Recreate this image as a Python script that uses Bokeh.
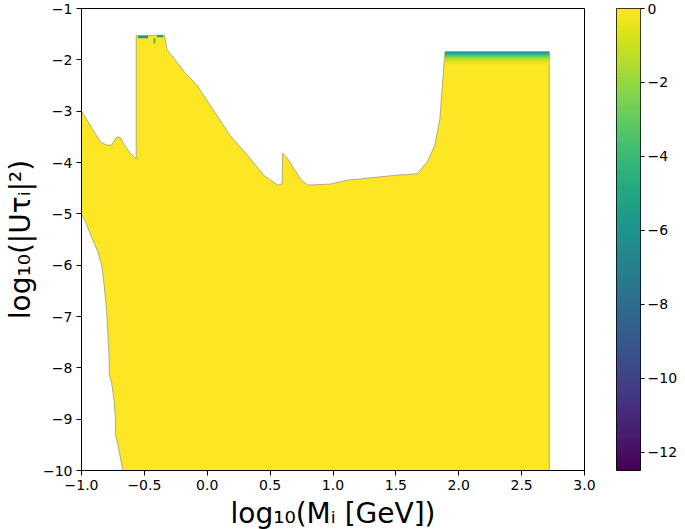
import numpy as np
from bokeh.plotting import figure
from bokeh.layouts import row
from bokeh.models import (LinearColorMapper, FixedTicker, CustomJSTickFormatter,
                          ColumnDataSource)
from bokeh.palettes import Viridis256
from bokeh.transform import linear_cmap
from bokeh.embed import file_html
from bokeh.resources import INLINE

# ---- data: boundary of the allowed region (log10 M, log10 |U|^2) ----
region_x = [-0.67, -0.69, -0.71, -0.73, -0.73, -0.74, -0.76, -0.78, -0.78, -0.79,
            -0.80, -0.82, -0.84, -0.87, -0.92, -0.96, -1.00,
            -1.00, -0.95, -0.90, -0.85, -0.80, -0.76, -0.72, -0.69, -0.66, -0.62,
            -0.565, -0.565, -0.34, -0.32, -0.25, -0.18, -0.08, 0.06, 0.18, 0.32,
            0.45, 0.56, 0.595, 0.60, 0.63, 0.66, 0.69, 0.75, 0.80, 0.98, 1.12,
            1.22, 1.49, 1.67, 1.75, 1.81, 1.85, 1.87, 1.89, 2.72, 2.72]
region_y = [-10.0, -9.76, -9.5, -9.3, -9.0, -8.65, -8.3, -8.13, -7.8, -7.35,
            -6.9, -6.38, -6.0, -5.74, -5.45, -5.2, -5.0,
            -3.0, -3.2, -3.4, -3.6, -3.66, -3.66, -3.5, -3.52, -3.65, -3.8,
            -3.93, -1.53, -1.52, -1.8, -2.02, -2.24, -2.5, -3.02, -3.47, -3.86,
            -4.25, -4.44, -4.42, -3.82, -3.9, -4.0, -4.12, -4.35, -4.44, -4.42, -4.34,
            -4.32, -4.25, -4.22, -3.99, -3.66, -3.15, -2.5, -1.85, -1.85, -10.0]
region_value = 0.0

# rows of smaller values near the upper edges (colour value = log10 ratio)
band_left = [1.89, 1.89, 1.89, 1.89, 1.89, 1.89, -0.55, -0.40, -0.43]
band_right = [2.72, 2.72, 2.72, 2.72, 2.72, 2.72, -0.47, -0.35, -0.41]
band_top = [-1.84, -1.88, -1.92, -1.96, -2.00, -2.05, -1.53, -1.52, -1.58]
band_bottom = [-1.88, -1.92, -1.96, -2.00, -2.05, -2.10, -1.58, -1.56, -1.68]
band_value = [-6.2, -4.5, -2.8, -1.6, -0.8, -0.3, -6.0, -6.0, -3.0]

x_ticks = [-1.0, -0.5, 0.0, 0.5, 1.0, 1.5, 2.0, 2.5, 3.0]
y_ticks = [-10, -9, -8, -7, -6, -5, -4, -3, -2, -1]
cbar_ticks = [0, -2, -4, -6, -8, -10, -12]
cbar_low, cbar_high = -12.5, 0.0

FONT = "DejaVu Sans"
mapper = LinearColorMapper(palette=Viridis256, low=cbar_low, high=cbar_high)

p = figure(frame_width=503, frame_height=462, min_border_left=79, min_border_top=8,
           min_border_bottom=55, min_border_right=14,
           x_range=(-1.0, 3.0), y_range=(-10.0, -1.0),
           output_backend="svg", toolbar_location=None)

src = ColumnDataSource(dict(x=[region_x], y=[region_y], v=[region_value]))
p.patches("x", "y", source=src,
          fill_color=linear_cmap("v", Viridis256, cbar_low, cbar_high),
          line_color="#a09a70", line_width=0.8)

bsrc = ColumnDataSource(dict(l=band_left, r=band_right, t=band_top, b=band_bottom, v=band_value))
p.quad(left="l", right="r", top="t", bottom="b", source=bsrc,
       fill_color=linear_cmap("v", Viridis256, cbar_low, cbar_high),
       line_color=None)

p.xgrid.visible = False
p.ygrid.visible = False
p.outline_line_color = "black"
p.outline_line_width = 1

p.xaxis.ticker = FixedTicker(ticks=x_ticks)
p.yaxis.ticker = FixedTicker(ticks=y_ticks)
p.xaxis.formatter = CustomJSTickFormatter(code="return tick.toFixed(1).replace('-', '\u2212');")
p.yaxis.formatter = CustomJSTickFormatter(code="return tick.toFixed(0).replace('-', '\u2212');")
p.xaxis.axis_label = "log₁₀(Mᵢ [GeV])"
p.yaxis.axis_label = "log₁₀(|Uτᵢ|²)"

for ax in (p.xaxis[0], p.yaxis[0]):
    ax.axis_label_text_font = FONT
    ax.axis_label_text_font_size = "28px"
    ax.axis_label_text_font_style = "normal"
    ax.axis_label_text_color = "black"
    ax.major_label_text_font = FONT
    ax.major_label_text_font_size = "14px"
    ax.major_label_text_color = "black"
    ax.major_tick_out = 5
    ax.major_tick_in = 0
    ax.minor_tick_out = 0
    ax.minor_tick_in = 0
    ax.axis_line_color = "black"
    ax.major_tick_line_color = "black"
    ax.major_label_standoff = 4
p.xaxis.axis_label_standoff = 4
p.yaxis.axis_label_standoff = 3

# ---- colour bar ----
ramp = np.linspace(cbar_low, cbar_high, 256).reshape(-1, 1)
cb = figure(frame_width=24, frame_height=462, min_border_left=18, min_border_top=8,
            min_border_bottom=55, min_border_right=3,
            x_range=(0, 1), y_range=(cbar_low, cbar_high), y_axis_location="right",
            output_backend="svg", toolbar_location=None)
cb.image(image=[ramp], x=0, y=cbar_low, dw=1, dh=cbar_high - cbar_low, color_mapper=mapper)
cb.xaxis.visible = False
cb.xgrid.visible = False
cb.ygrid.visible = False
cb.outline_line_color = "black"
cb.yaxis.ticker = FixedTicker(ticks=cbar_ticks)
cb.yaxis.formatter = CustomJSTickFormatter(code="return tick.toFixed(0).replace('-', '\u2212');")
cb.yaxis.major_label_text_font = FONT
cb.yaxis.major_label_text_font_size = "14px"
cb.yaxis.major_label_text_color = "black"
cb.yaxis.major_tick_out = 4
cb.yaxis.major_tick_in = 0
cb.yaxis.minor_tick_out = 0
cb.yaxis.minor_tick_in = 0
cb.yaxis.axis_line_color = None
cb.yaxis.major_label_standoff = 3

layout = row(p, cb)
open("out.html", "w").write(file_html(layout, INLINE))
